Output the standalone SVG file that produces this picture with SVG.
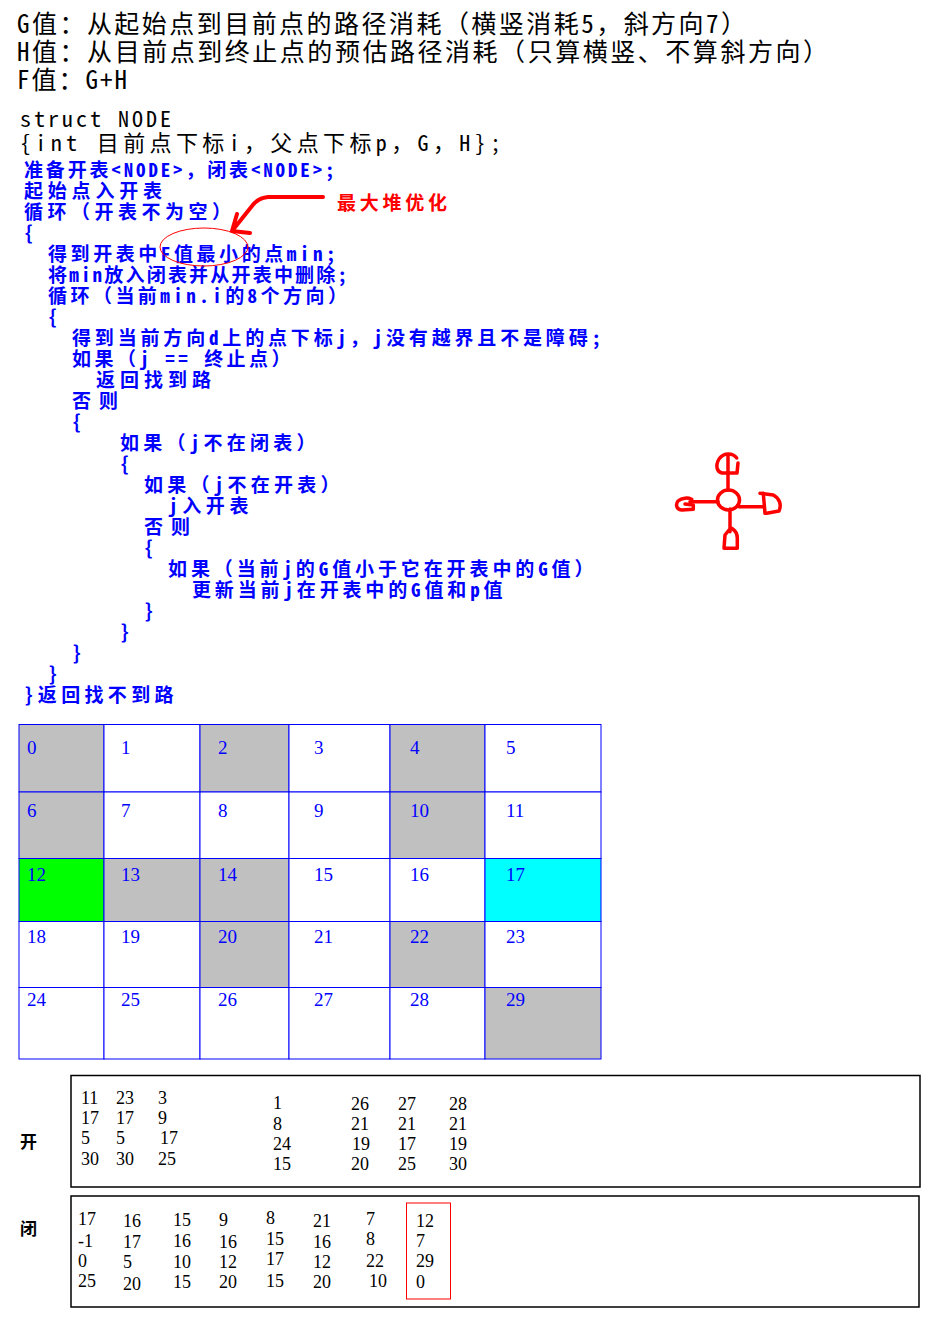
<svg xmlns="http://www.w3.org/2000/svg" width="942" height="1343" viewBox="0 0 942 1343">
<style>
.blk{font-family:"Noto Sans Mono CJK SC","Noto Sans CJK SC",monospace;font-size:25px;fill:#000}
.st{font-family:"Noto Sans Mono CJK SC","Noto Sans CJK SC",monospace;font-size:22px;fill:#000}
.code{font-family:"Noto Sans Mono CJK SC","Noto Sans CJK SC",monospace;font-size:19px;font-weight:bold;fill:#0000ff}
.note{font-family:"Noto Sans CJK SC",sans-serif;font-size:19px;font-weight:bold;fill:#ff0000}
.cell{stroke:#0000ff;stroke-width:1}
.g{fill:#c0c0c0}.w{fill:#ffffff}.gr{fill:#00ff00}.cy{fill:#00ffff}
.num{font-family:"Liberation Serif",serif;font-size:19px;fill:#0000ff}
.tn{font-family:"Liberation Serif",serif;font-size:18px;fill:#000}
.lab{font-family:"Noto Sans CJK SC",sans-serif;font-size:17px;font-weight:bold;fill:#000}
.box{fill:none;stroke:#000;stroke-width:1.5}
.red{fill:none;stroke:#ff0000;stroke-linecap:round;stroke-linejoin:round}
</style>
<rect width="942" height="1343" fill="#ffffff"/>

<g id="definitions">
<text class="blk" x="17" y="33" textLength="729">G值：从起始点到目前点的路径消耗（横竖消耗5，斜方向7）</text>
<text class="blk" x="17" y="60.5" textLength="811">H值：从目前点到终止点的预估路径消耗（只算横竖、不算斜方向）</text>
<text class="blk" x="17" y="88.5" textLength="110">F值：G+H</text>
<text class="st" x="20" y="127" textLength="151">struct NODE</text>
<text class="st" x="20" y="151" textLength="481">{int 目前点下标i，父点下标p，G，H};</text>
</g>

<g id="pseudocode">
<text class="code" x="24" y="177.2" textLength="310.5">准备开表&lt;NODE&gt;，闭表&lt;NODE&gt;;</text>
<text class="code" x="24" y="198.2" textLength="138">起始点入开表</text>
<text class="code" x="24" y="219.2" textLength="207">循环（开表不为空）</text>
<text class="code" x="24" y="240.2">{</text>
<text class="code" x="48" y="261.2" textLength="287.5">得到开表中F值最小的点min;</text>
<text class="code" x="48" y="282.2" textLength="299">将min放入闭表并从开表中删除;</text>
<text class="code" x="48" y="303.2" textLength="299">循环（当前min.i的8个方向）</text>
<text class="code" x="48" y="324.2">{</text>
<text class="code" x="72" y="345.2" textLength="529">得到当前方向d上的点下标j，j没有越界且不是障碍;</text>
<text class="code" x="72" y="366.2" textLength="218.5">如果（j == 终止点）</text>
<text class="code" x="96" y="387.2" textLength="115">返回找到路</text>
<text class="code" x="72" y="408.2" textLength="46">否则</text>
<text class="code" x="72" y="429.2">{</text>
<text class="code" x="120" y="450.2" textLength="195.5">如果（j不在闭表）</text>
<text class="code" x="120" y="471.2">{</text>
<text class="code" x="144" y="492.2" textLength="195.5">如果（j不在开表）</text>
<text class="code" x="168" y="513.2" textLength="80.5">j入开表</text>
<text class="code" x="144" y="534.2" textLength="46">否则</text>
<text class="code" x="144" y="555.2">{</text>
<text class="code" x="168" y="576.2" textLength="425.5">如果（当前j的G值小于它在开表中的G值）</text>
<text class="code" x="192" y="597.2" textLength="310.5">更新当前j在开表中的G值和p值</text>
<text class="code" x="144" y="618.2">}</text>
<text class="code" x="120" y="639.2">}</text>
<text class="code" x="72" y="660.2">}</text>
<text class="code" x="48" y="681.2">}</text>
<text class="code" x="24" y="702.2" textLength="149.5">}返回找不到路</text>
</g>

<g id="annotation">
<text class="note" x="337" y="210" textLength="110">最大堆优化</text>
<ellipse class="red" cx="204" cy="247" rx="44" ry="19" stroke-width="1"/>
</g>

<g id="connectors">
<path class="red" stroke-width="4" d="M323,197 L268,197 Q258,198 252,206 L232,231 M232,231 L250,233 M232,231 L237,214"/>
</g>

<g id="sketch" class="red" stroke-width="3.5">
<path d="M728,455 L728,490"/>
<path d="M736.7,458 C733,453 724,452 719,459 C715,466 717,472 722,473 L737,473 L738,463"/>
<ellipse cx="728.5" cy="500" rx="11" ry="10"/>
<path d="M690,501.7 L718,501.7"/>
<path d="M691.7,499.3 C688,497.5 682,497.5 678,501 C675,505 677,510 682,510 L693.3,509.3 L693.3,505 L685,504"/>
<path d="M739,506.7 L763,506.7"/>
<path d="M763.3,493.3 L765,513.3"/>
<path d="M760,493.3 L773.3,495 C779,498 782,504 779,511 L766.7,513.3"/>
<path d="M730,509 L730,531.7"/>
<path d="M731.7,528.3 C736,531 737.3,534 737.3,538 L737.3,548.3 L724,548.3 L725,535 L729,530"/>
</g>

<g id="grid">
<g id="cell-0"><rect class="cell g" x="19" y="724.5" width="85" height="67.5"/><text class="num" x="27" y="754">0</text></g>
<g id="cell-1"><rect class="cell w" x="104" y="724.5" width="96" height="67.5"/><text class="num" x="121" y="754">1</text></g>
<g id="cell-2"><rect class="cell g" x="200" y="724.5" width="89" height="67.5"/><text class="num" x="218" y="754">2</text></g>
<g id="cell-3"><rect class="cell w" x="289" y="724.5" width="101" height="67.5"/><text class="num" x="314" y="754">3</text></g>
<g id="cell-4"><rect class="cell g" x="390" y="724.5" width="95" height="67.5"/><text class="num" x="410" y="754">4</text></g>
<g id="cell-5"><rect class="cell w" x="485" y="724.5" width="116" height="67.5"/><text class="num" x="506" y="754">5</text></g>

<g id="cell-6"><rect class="cell g" x="19" y="792" width="85" height="66.5"/><text class="num" x="27" y="817">6</text></g>
<g id="cell-7"><rect class="cell w" x="104" y="792" width="96" height="66.5"/><text class="num" x="121" y="817">7</text></g>
<g id="cell-8"><rect class="cell w" x="200" y="792" width="89" height="66.5"/><text class="num" x="218" y="817">8</text></g>
<g id="cell-9"><rect class="cell w" x="289" y="792" width="101" height="66.5"/><text class="num" x="314" y="817">9</text></g>
<g id="cell-10"><rect class="cell g" x="390" y="792" width="95" height="66.5"/><text class="num" x="410" y="817">10</text></g>
<g id="cell-11"><rect class="cell w" x="485" y="792" width="116" height="66.5"/><text class="num" x="506" y="817">11</text></g>

<g id="cell-12"><rect class="cell gr" x="19" y="858.5" width="85" height="63"/><text class="num" x="27" y="881">12</text></g>
<g id="cell-13"><rect class="cell g" x="104" y="858.5" width="96" height="63"/><text class="num" x="121" y="881">13</text></g>
<g id="cell-14"><rect class="cell g" x="200" y="858.5" width="89" height="63"/><text class="num" x="218" y="881">14</text></g>
<g id="cell-15"><rect class="cell w" x="289" y="858.5" width="101" height="63"/><text class="num" x="314" y="881">15</text></g>
<g id="cell-16"><rect class="cell w" x="390" y="858.5" width="95" height="63"/><text class="num" x="410" y="881">16</text></g>
<g id="cell-17"><rect class="cell cy" x="485" y="858.5" width="116" height="63"/><text class="num" x="506" y="881">17</text></g>

<g id="cell-18"><rect class="cell w" x="19" y="921.5" width="85" height="66"/><text class="num" x="27" y="943">18</text></g>
<g id="cell-19"><rect class="cell w" x="104" y="921.5" width="96" height="66"/><text class="num" x="121" y="943">19</text></g>
<g id="cell-20"><rect class="cell g" x="200" y="921.5" width="89" height="66"/><text class="num" x="218" y="943">20</text></g>
<g id="cell-21"><rect class="cell w" x="289" y="921.5" width="101" height="66"/><text class="num" x="314" y="943">21</text></g>
<g id="cell-22"><rect class="cell g" x="390" y="921.5" width="95" height="66"/><text class="num" x="410" y="943">22</text></g>
<g id="cell-23"><rect class="cell w" x="485" y="921.5" width="116" height="66"/><text class="num" x="506" y="943">23</text></g>

<g id="cell-24"><rect class="cell w" x="19" y="987.5" width="85" height="71.5"/><text class="num" x="27" y="1006">24</text></g>
<g id="cell-25"><rect class="cell w" x="104" y="987.5" width="96" height="71.5"/><text class="num" x="121" y="1006">25</text></g>
<g id="cell-26"><rect class="cell w" x="200" y="987.5" width="89" height="71.5"/><text class="num" x="218" y="1006">26</text></g>
<g id="cell-27"><rect class="cell w" x="289" y="987.5" width="101" height="71.5"/><text class="num" x="314" y="1006">27</text></g>
<g id="cell-28"><rect class="cell w" x="390" y="987.5" width="95" height="71.5"/><text class="num" x="410" y="1006">28</text></g>
<g id="cell-29"><rect class="cell g" x="485" y="987.5" width="116" height="71.5"/><text class="num" x="506" y="1006">29</text></g>
</g>

<g id="open-list">
<text class="lab" x="20" y="1148">开</text>
<rect class="box" x="71" y="1075.5" width="849" height="111.5"/>
<text class="tn" x="81" y="1104">11</text><text class="tn" x="116" y="1104">23</text><text class="tn" x="158" y="1104">3</text>
<text class="tn" x="81" y="1124">17</text><text class="tn" x="116" y="1124">17</text><text class="tn" x="158" y="1124">9</text>
<text class="tn" x="81" y="1144">5</text><text class="tn" x="116" y="1144">5</text><text class="tn" x="160" y="1144">17</text>
<text class="tn" x="81" y="1165">30</text><text class="tn" x="116" y="1165">30</text><text class="tn" x="158" y="1165">25</text>
<text class="tn" x="273" y="1109">1</text>
<text class="tn" x="273" y="1130">8</text>
<text class="tn" x="273" y="1150">24</text>
<text class="tn" x="273" y="1170">15</text>
<text class="tn" x="351" y="1110">26</text><text class="tn" x="398" y="1110">27</text><text class="tn" x="449" y="1110">28</text>
<text class="tn" x="351" y="1130">21</text><text class="tn" x="398" y="1130">21</text><text class="tn" x="449" y="1130">21</text>
<text class="tn" x="352" y="1150">19</text><text class="tn" x="398" y="1150">17</text><text class="tn" x="449" y="1150">19</text>
<text class="tn" x="351" y="1170">20</text><text class="tn" x="398" y="1170">25</text><text class="tn" x="449" y="1170">30</text>
</g>

<g id="closed-list">
<text class="lab" x="20" y="1234.5">闭</text>
<rect class="box" x="71" y="1196" width="848" height="111"/>
<text class="tn" x="78" y="1225">17</text><text class="tn" x="78" y="1246.5">-1</text><text class="tn" x="78" y="1266.5">0</text><text class="tn" x="78" y="1286.5">25</text>
<text class="tn" x="123" y="1227">16</text><text class="tn" x="123" y="1248">17</text><text class="tn" x="123" y="1268">5</text><text class="tn" x="123" y="1290">20</text>
<text class="tn" x="173" y="1226">15</text><text class="tn" x="173" y="1247">16</text><text class="tn" x="173" y="1268">10</text><text class="tn" x="173" y="1288">15</text>
<text class="tn" x="219" y="1226">9</text><text class="tn" x="219" y="1248">16</text><text class="tn" x="219" y="1268">12</text><text class="tn" x="219" y="1288">20</text>
<text class="tn" x="266" y="1224">8</text><text class="tn" x="266" y="1245">15</text><text class="tn" x="266" y="1265">17</text><text class="tn" x="266" y="1286.5">15</text>
<text class="tn" x="313" y="1227">21</text><text class="tn" x="313" y="1248">16</text><text class="tn" x="313" y="1268">12</text><text class="tn" x="313" y="1288">20</text>
<text class="tn" x="366" y="1225">7</text><text class="tn" x="366" y="1245">8</text><text class="tn" x="366" y="1266.5">22</text><text class="tn" x="369" y="1286.5">10</text>
<text class="tn" x="416" y="1227">12</text><text class="tn" x="416" y="1247">7</text><text class="tn" x="416" y="1266.5">29</text><text class="tn" x="416" y="1288">0</text>
<rect x="406.5" y="1203" width="44" height="96" fill="none" stroke="#ff0000" stroke-width="1"/>
</g>
</svg>
